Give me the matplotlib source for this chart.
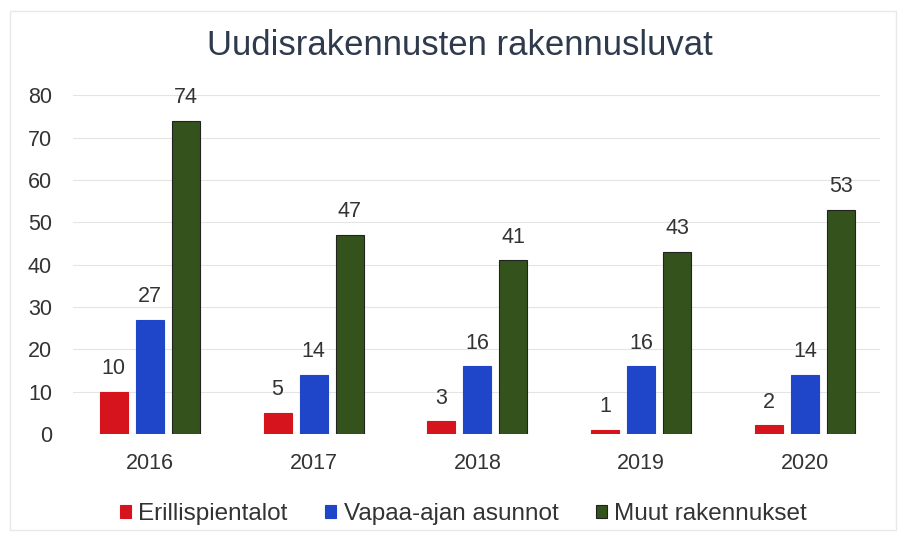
import matplotlib.pyplot as plt
import numpy as np
from matplotlib.patches import Rectangle

plt.rcParams['font.family'] = ['Liberation Sans', 'DejaVu Sans']

# Data
years = ['2016', '2017', '2018', '2019', '2020']
erillispientalot = [10, 5, 3, 1, 2]
vapaa_ajan = [27, 14, 16, 16, 14]
muut = [74, 47, 41, 43, 53]
series_names = ['Erillispientalot', 'Vapaa-ajan asunnot', 'Muut rakennukset']
series_colors = ['#d6141d', '#1f46c9', '#34521b']

fig = plt.figure(figsize=(9, 5.41), dpi=100)
ax = fig.add_axes([0.081, 0.198, 0.897, 0.626])

# faint outer frame from the scanned chart
fig.patches.append(Rectangle((0.011, 0.02), 0.985, 0.96, transform=fig.transFigure,
                             fill=False, edgecolor='#e8e8e8', linewidth=1))

x = np.arange(len(years))
width = 0.17
offset = 0.22
text_color = '#333333'

for i, (vals, name, col) in enumerate(zip([erillispientalot, vapaa_ajan, muut],
                                          series_names, series_colors)):
    bars = ax.bar(x + (i - 1) * offset, vals, width, color=col, label=name,
                  edgecolor='#222222' if i == 2 else col, linewidth=0.8, zorder=3)
    ax.bar_label(bars, padding=9, fontsize=15.5, color=text_color)

ax.set_xlim(-0.47, 4.46)
ax.set_ylim(0, 80)
ax.set_yticks(range(0, 81, 10))
ax.set_xticks(x)
ax.set_xticklabels(years)
ax.tick_params(axis='both', length=0, labelsize=15.5, colors=text_color)
ax.tick_params(axis='x', pad=14)
ax.tick_params(axis='y', pad=15)
ax.grid(axis='y', color='#e4e4e4', linewidth=0.8, zorder=0)
for s in ax.spines.values():
    s.set_visible(False)

fig.text(0.511, 0.915, 'Uudisrakennusten rakennusluvat', ha='center', va='center',
         fontsize=25, color='#2f3b4c')

fig.legend(loc='center', bbox_to_anchor=(0.515, 0.05), ncol=3, frameon=False,
           fontsize=17.5, handlelength=0.45, handleheight=0.45, handletextpad=0.3,
           columnspacing=1.55, labelcolor=text_color)

plt.savefig('out.png', dpi=100, facecolor='white')
